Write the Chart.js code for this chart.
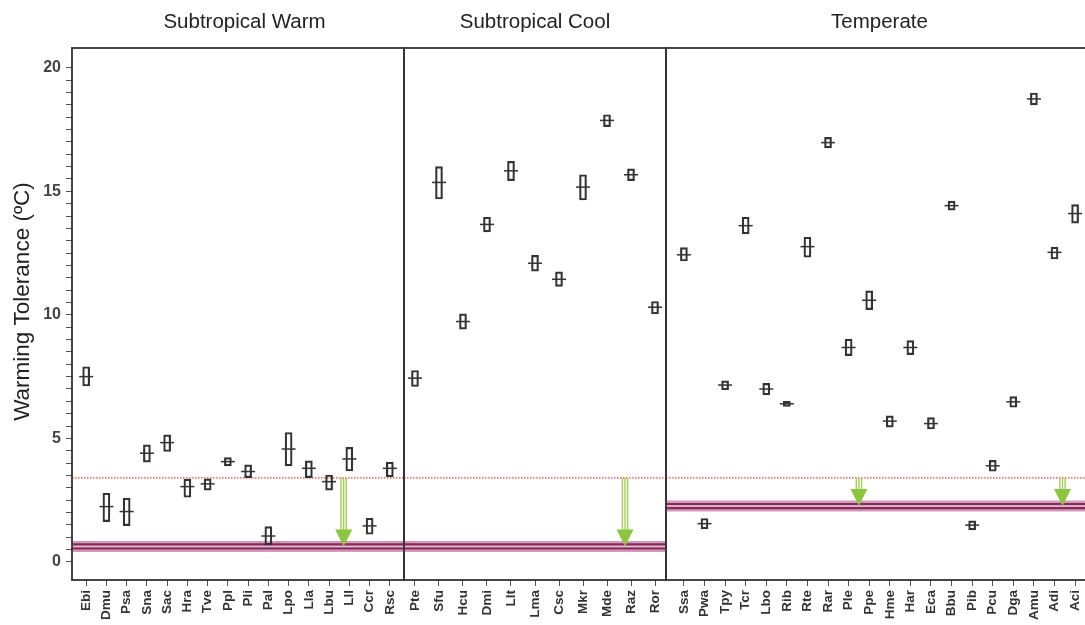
<!DOCTYPE html>
<html>
<head>
<meta charset="utf-8">
<title>Warming Tolerance</title>
<script src="https://cdn.jsdelivr.net/npm/chart.js@4.4.1/dist/chart.umd.min.js"></script>
<style>
	html, body { margin: 0; padding: 0; background: #fff; overflow: hidden; }
	#wrap { position: relative; width: 1085px; height: 625px; overflow: hidden; }
	#wrap canvas { position: absolute; top: 0; }
</style>
</head>
<body>
<div id="wrap">
	<canvas id="warm" width="406" height="625" style="left:0"></canvas>
	<canvas id="cool" width="266" height="625" style="left:402px"></canvas>
	<canvas id="temp" width="429" height="625" style="left:664px"></canvas>
</div>
<script>
var panelNames = ['Subtropical Warm', 'Subtropical Cool', 'Temperate'];
var yTicks = [0, 5, 10, 15, 20];

var warmSpecies = ['Ebi', 'Dmu', 'Psa', 'Sna', 'Sac', 'Hra', 'Tve', 'Ppl', 'Pli', 'Pal', 'Lpo', 'Lla', 'Lbu', 'Lll', 'Ccr', 'Rsc'];
var warmMid = [7.5, 2.24, 2.04, 4.4, 4.83, 3.05, 3.16, 4.06, 3.66, 1.05, 4.57, 3.79, 3.25, 4.17, 1.46, 3.79];
var warmLow = [7.12, 1.63, 1.47, 4.04, 4.47, 2.62, 2.91, 3.89, 3.41, 0.69, 3.89, 3.41, 2.91, 3.68, 1.12, 3.45];
var warmHigh = [7.9, 2.78, 2.58, 4.74, 5.14, 3.35, 3.36, 4.22, 3.93, 1.43, 5.24, 4.09, 3.52, 4.64, 1.77, 4.04];

var coolSpecies = ['Pte', 'Sfu', 'Hcu', 'Dmi', 'Llt', 'Lma', 'Csc', 'Mkr', 'Mde', 'Raz', 'Ror'];
var coolMid = [7.44, 15.36, 9.73, 13.66, 15.83, 12.09, 11.44, 15.17, 17.87, 15.67, 10.31];
var coolLow = [7.1, 14.69, 9.42, 13.36, 15.43, 11.77, 11.15, 14.65, 17.62, 15.43, 10.04];
var coolHigh = [7.75, 16.0, 10.04, 13.95, 16.21, 12.41, 11.74, 15.67, 18.1, 15.91, 10.54];

var tempSpecies = ['Ssa', 'Pwa', 'Tpy', 'Tcr', 'Lbo', 'Rib', 'Rte', 'Rar', 'Ple', 'Ppe', 'Hme', 'Har', 'Eca', 'Bbu', 'Pib', 'Pcu', 'Dga', 'Amu', 'Adi', 'Aci'];
var tempMid = [12.43, 1.55, 7.16, 13.61, 7.0, 6.4, 12.76, 16.97, 8.68, 10.59, 5.7, 8.68, 5.6, 14.42, 1.49, 3.89, 6.48, 18.74, 12.53, 14.1];
var tempLow = [12.18, 1.34, 6.97, 13.28, 6.76, 6.29, 12.33, 16.76, 8.35, 10.21, 5.46, 8.39, 5.38, 14.24, 1.3, 3.67, 6.26, 18.5, 12.26, 13.71];
var tempHigh = [12.72, 1.76, 7.33, 13.95, 7.23, 6.5, 13.14, 17.18, 9.02, 10.97, 5.91, 8.96, 5.84, 14.6, 1.66, 4.11, 6.69, 18.98, 12.74, 14.46];

// red dotted reference line and the coloured band of each panel
var redLine = 3.4;
var bandLevels = [0.63, 0.63, 2.26];
// arrow positions, in species index units of each panel
var warmArrows = [12.72];
var coolArrows = [8.75];
var tempArrows = [8.5, 18.39];

Chart.defaults.font.family = '"Liberation Sans", Arial, sans-serif';

var panelPlugin = {
	id: 'panel',
	afterDatasetsDraw: function (chart, args, opts) {
		var ctx = chart.ctx, xs = chart.scales.x, ys = chart.scales.y, a = chart.chartArea;
		var top = ys.getPixelForValue(redLine), tip = ys.getPixelForValue(opts.band);
		ctx.save();
		opts.arrows.forEach(function (v) {
			var px = xs.getPixelForValue(v);
			ctx.strokeStyle = '#9fcf55';
			ctx.lineWidth = 1.4;
			[-2.6, 0, 2.6].forEach(function (dx) {
				ctx.beginPath();
				ctx.moveTo(px + dx, top);
				ctx.lineTo(px + dx, tip - 15);
				ctx.stroke();
			});
			ctx.fillStyle = '#8cc63e';
			ctx.beginPath();
			ctx.moveTo(px - 8.5, tip - 17);
			ctx.lineTo(px + 8.5, tip - 17);
			ctx.lineTo(px, tip);
			ctx.closePath();
			ctx.fill();
		});
		ctx.strokeStyle = '#333';
		ctx.lineWidth = 1.8;
		ctx.strokeRect(a.left, a.top, a.right - a.left, a.bottom - a.top);
		ctx.restore();
	},
	afterDraw: function (chart, args, opts) {
		var ctx = chart.ctx, a = chart.chartArea;
		ctx.save();
		ctx.font = '20.5px "Liberation Sans", Arial, sans-serif';
		ctx.fillStyle = '#222';
		ctx.textAlign = 'center';
		ctx.textBaseline = 'middle';
		ctx.fillText(opts.title, (a.left + a.right) / 2 + opts.shift, 22);
		ctx.restore();
	}
};

function hline(y, x0, x1, color, width, dash, order) {
	return {
		type: 'line',
		data: [{ x: x0, y: y }, { x: x1, y: y }],
		borderColor: color,
		borderWidth: width,
		borderDash: dash,
		pointRadius: 0,
		order: order
	};
}

function makePanel(id, idx, species, mid, low, high, arrows, pad, padding, showY, shift) {
	var x0 = -pad, x1 = species.length - 1 + pad, band = bandLevels[idx];
	return new Chart(document.getElementById(id), {
		type: 'bar',
		data: {
			datasets: [
				{
					type: 'line',
					data: species.map(function (s, i) { return { x: i, y: mid[i] }; }),
					showLine: false,
					pointStyle: 'line',
					pointRadius: 7,
					pointBorderWidth: 1.5,
					pointBorderColor: '#333',
					order: 0
				},
				{
					type: 'bar',
					data: species.map(function (s, i) { return { x: i, y: [low[i], high[i]] }; }),
					barThickness: 7,
					backgroundColor: 'rgba(255,255,255,0)',
					borderColor: '#333',
					borderWidth: 1.5,
					borderSkipped: false,
					order: 1
				},
				hline(redLine, x0, x1, '#f03a3a', 1.2, [1.5, 1.5], 2),
				hline(band, x0, x1, '#e6c4d6', 1, [], 3),
				hline(band + 0.085, x0, x1, '#8a2a5c', 2.2, [], 4),
				hline(band - 0.085, x0, x1, '#8a2a5c', 2.2, [], 5),
				hline(band, x0, x1, '#d29bb9', 11, [], 6)
			]
		},
		options: {
			responsive: false,
			animation: false,
			layout: { padding: padding, autoPadding: false },
			plugins: {
				legend: { display: false },
				tooltip: { enabled: false },
				panel: { title: panelNames[idx], shift: shift, arrows: arrows, band: band }
			},
			scales: {
				x: {
					type: 'linear',
					min: x0,
					max: x1,
					offset: false,
					afterBuildTicks: function (s) {
						s.ticks = species.map(function (c, i) { return { value: i }; });
					},
					afterFit: function (s) {
						s.height = 45;
						s.paddingLeft = 0;
						s.paddingRight = 0;
					},
					ticks: {
						autoSkip: false,
						minRotation: 90,
						maxRotation: 90,
						padding: 4,
						color: '#333',
						font: { size: 13.5, weight: 'bold' },
						callback: function (v) { return species[v]; }
					},
					grid: { offset: false, drawOnChartArea: false, tickLength: 6, color: '#555' },
					border: { display: false }
				},
				y: {
					display: showY,
					min: -0.73,
					max: 20.8,
					afterBuildTicks: function (s) {
						var t = [];
						for (var v = 0; v <= 20; v += 0.5) t.push({ value: v });
						s.ticks = t;
					},
					afterFit: function (s) {
						s.width = showY ? 72 : 0;
						s.paddingTop = 0;
						s.paddingBottom = 0;
					},
					ticks: {
						autoSkip: false,
						padding: 5,
						color: '#444',
						font: { size: 16, weight: 'bold' },
						callback: function (v) { return yTicks.indexOf(v) >= 0 ? String(v) : ''; }
					},
					grid: { drawOnChartArea: false, tickLength: 6, color: '#555' },
					border: { display: false },
					title: {
						display: true,
						text: '\u00a0\u00a0\u00a0\u00a0Warming Tolerance (ºC)',
						color: '#222',
						font: { size: 22.5 },
						padding: { top: 9, bottom: 0 }
					}
				}
			}
		},
		plugins: [panelPlugin]
	});
}

makePanel('warm', 0, warmSpecies, warmMid, warmLow, warmHigh, warmArrows, 0.7, { top: 48, left: 0, right: 2, bottom: 0 }, true, 6.5);
makePanel('cool', 1, coolSpecies, coolMid, coolLow, coolHigh, coolArrows, 0.458, { top: 48, left: 2, right: 2, bottom: 0 }, false, 0);
makePanel('temp', 2, tempSpecies, tempMid, tempLow, tempHigh, tempArrows, 0.87, { top: 48, left: 2, right: 0, bottom: 0 }, false, 0);
</script>
</body>
</html>
